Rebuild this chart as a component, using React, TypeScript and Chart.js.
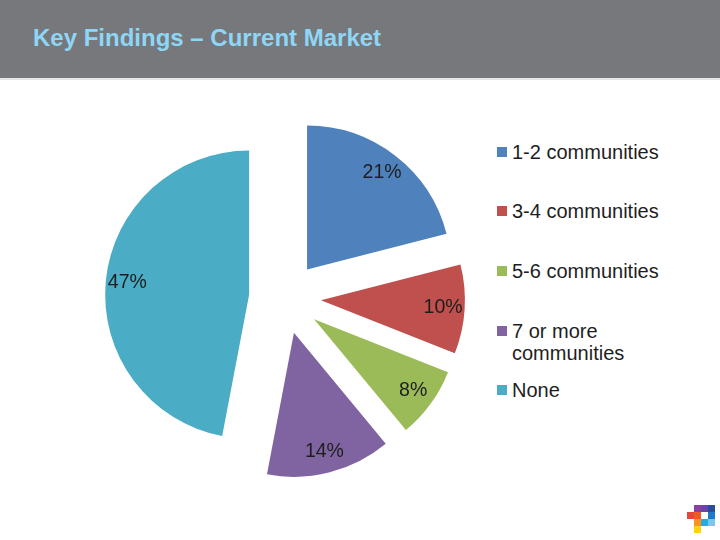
import React, { useEffect, useRef } from 'react';
import { Chart, registerables } from 'chart.js';

Chart.register(...registerables);

const title = 'Key Findings – Current Market';
const categories = ['1-2 communities', '3-4 communities', '5-6 communities', '7 or more communities', 'None'];
const shares = [21, 10, 8, 14, 47];
const sliceColors = ['#4F81BD', '#C0504D', '#9BBB59', '#8064A2', '#4BACC6'];

// layout-only constants
const legendTops = [141, 200, 260, 320, 379];
const EXPLODE = 36;
const FONT = '"Liberation Sans", Arial, Helvetica, sans-serif';

const logoCells: [number, number, string][] = [
  [694, 505, '#8B3FA0'], [701, 505, '#6A44A8'], [708, 505, '#2E4B9B'],
  [687, 512, '#E8453C'], [694, 512, '#F05A28'], [701, 512, '#FFFFFF'], [708, 512, '#1F78C8'],
  [694, 519, '#F7941D'], [701, 519, '#29A9E0'], [708, 519, '#7FC4EC'],
  [694, 526, '#FCD116'],
];

const explodePlugin = {
  id: 'explodeSlices',
  afterDatasetUpdate(chart: any, args: any) {
    const meta = args.meta || chart.getDatasetMeta(args.index);
    meta.data.forEach((arc: any) => {
      const mid = (arc.startAngle + arc.endAngle) / 2;
      arc.x += Math.cos(mid) * EXPLODE;
      arc.y += Math.sin(mid) * EXPLODE;
    });
  },
};

const pctLabels = {
  id: 'pctLabels',
  afterDatasetsDraw(chart: any) {
    const ctx = chart.ctx;
    const meta = chart.getDatasetMeta(0);
    const data = chart.data.datasets[0].data;
    ctx.save();
    ctx.font = `19.5px ${FONT}`;
    ctx.fillStyle = '#1E1E1E';
    ctx.textAlign = 'center';
    ctx.textBaseline = 'middle';
    meta.data.forEach((arc: any, i: number) => {
      const mid = (arc.startAngle + arc.endAngle) / 2;
      const r = arc.outerRadius * 0.85;
      ctx.fillText(`${data[i]}%`, arc.x + Math.cos(mid) * r, arc.y + Math.sin(mid) * r);
    });
    ctx.restore();
  },
};

export default function App() {
  const canvasRef = useRef<HTMLCanvasElement | null>(null);

  useEffect(() => {
    if (!canvasRef.current) return;
    const chart = new Chart(canvasRef.current, {
      type: 'pie',
      data: {
        labels: categories,
        datasets: [
          {
            data: shares,
            backgroundColor: sliceColors,
            borderWidth: 0,
          },
        ],
      },
      options: {
        responsive: false,
        animation: false,
        events: [],
        radius: 144,
        layout: { padding: { left: 90, right: 0, top: 0, bottom: 22 } },
        plugins: {
          legend: { display: false },
          tooltip: { enabled: false },
        },
      } as any,
      plugins: [explodePlugin, pctLabels],
    });
    return () => chart.destroy();
  }, []);

  return (
    <div
      style={{
        position: 'fixed',
        left: 0,
        top: 0,
        width: 720,
        height: 540,
        background: '#FFFFFF',
        overflow: 'hidden',
        fontFamily: FONT,
      }}
    >
      <div
        style={{
          position: 'absolute',
          left: 0,
          top: 0,
          width: 720,
          height: 78,
          background: '#77787B',
          borderBottom: '2px solid #E6E6E6',
        }}
      />
      <div
        style={{
          position: 'absolute',
          left: 33,
          top: 26,
          fontSize: 24,
          lineHeight: '24px',
          fontWeight: 'bold',
          color: '#8ED6F6',
          whiteSpace: 'nowrap',
        }}
      >
        {title}
      </div>
      <canvas
        ref={canvasRef}
        width={480}
        height={462}
        style={{ position: 'absolute', left: 0, top: 78, width: 480, height: 462 }}
      />
      {categories.map((c, i) => (
        <div
          key={c}
          style={{
            position: 'absolute',
            left: 497,
            top: legendTops[i],
            display: 'flex',
            alignItems: 'flex-start',
          }}
        >
          <div
            style={{
              width: 10,
              height: 10,
              marginTop: 6,
              background: sliceColors[i],
              flex: 'none',
            }}
          />
          <div
            style={{
              marginLeft: 5,
              width: 170,
              fontSize: 20,
              lineHeight: '22px',
              color: '#1E1E1E',
            }}
          >
            {c}
          </div>
        </div>
      ))}
      {logoCells.map(([x, y, col], i) => (
        <div
          key={i}
          style={{ position: 'absolute', left: x, top: y, width: 7, height: 7, background: col }}
        />
      ))}
    </div>
  );
}
